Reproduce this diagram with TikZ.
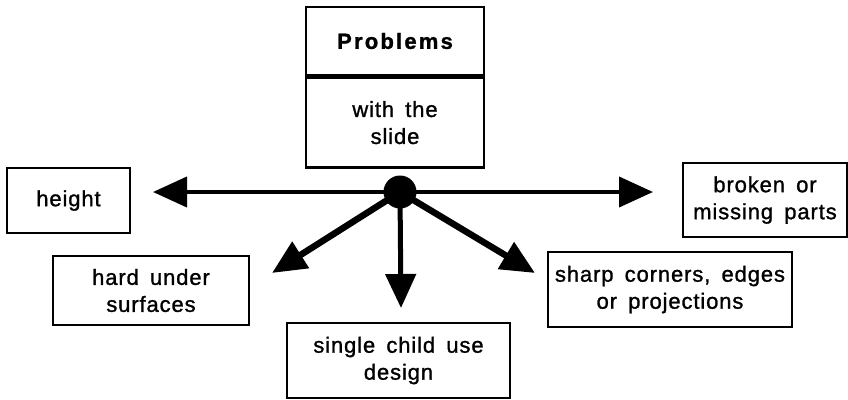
\documentclass[tikz,border=0pt]{standalone}
\usepackage{fontspec}
\setmainfont{Liberation Sans}[LetterSpace=4,WordSpace=1.6,FakeBold=1.2]
\usetikzlibrary{arrows.meta}
\begin{document}
\begin{tikzpicture}[x=1pt,y=-1pt,
  box/.style={draw, line width=2.6pt, inner sep=0pt, align=center,
    font=\fontsize{22}{27}\selectfont},
  spoke/.style={-{Triangle[length=34pt,width=30pt]}},
]
\useasboundingbox (0,0) rectangle (848,399);

% heading block
\node[box, minimum width=178pt, minimum height=68pt] (title) at (395,41)
  {\addfontfeature{LetterSpace=10}\bfseries Problems};
\node[box, minimum width=178pt, minimum height=90pt, anchor=north] (sub) at (title.south) {with the\\slide};

% outer boxes
\node[box, minimum width=123pt, minimum height=65pt] (height) at (68.5,200.5) {height};
\node[box, minimum width=164pt, minimum height=74pt] (broken) at (765,200) {broken or\\missing parts};
\node[box, minimum width=196pt, minimum height=69pt] (hard) at (151,290.5) {hard under\\surfaces};
\node[box, minimum width=244pt, minimum height=75pt] (sharp) at (670,289.5) {sharp corners, edges\\or projections};
\node[box, minimum width=223pt, minimum height=75pt] (single) at (398.5,360.5) {single child use\\design};

% hub and spokes
\node[circle, fill, minimum size=33pt, inner sep=0pt] (hub) at (400,192) {};
\coordinate (tipL) at (153,192);
\coordinate (tipR) at (653,192);
\coordinate (tipLL) at (272,273);
\coordinate (tipD) at (401,308);
\coordinate (tipLR) at (535,273);

\draw[spoke, line width=4pt] (hub.center) -- (tipL);
\draw[spoke, line width=4pt] (hub.center) -- (tipR);
\draw[spoke, line width=6.5pt] (hub.center) -- (tipLL);
\draw[spoke, line width=5pt] (hub.center) -- (tipD);
\draw[spoke, line width=6.5pt] (hub.center) -- (tipLR);
\end{tikzpicture}
\end{document}
